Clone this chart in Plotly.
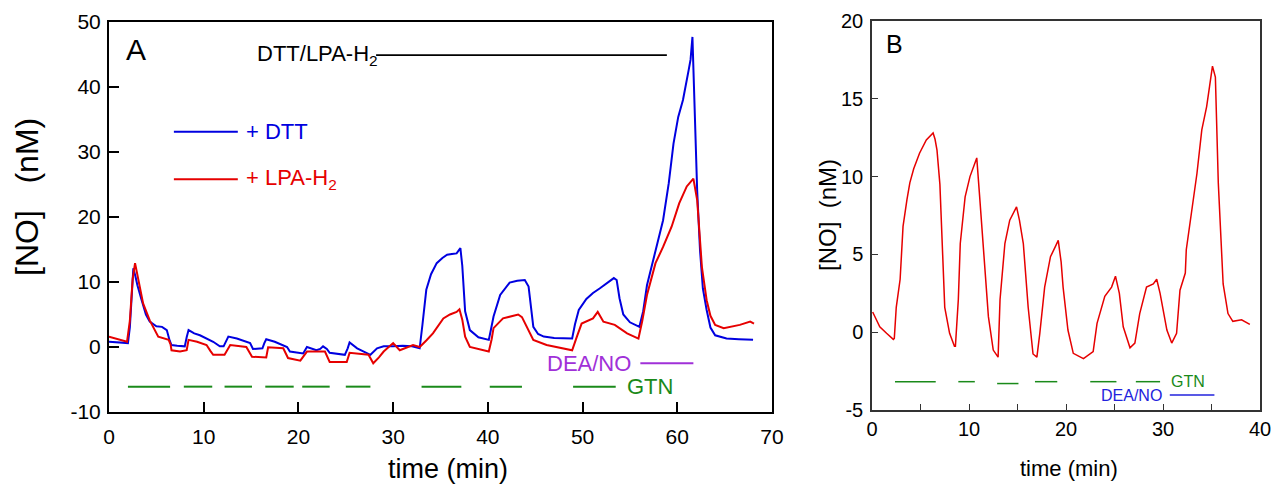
import plotly.graph_objects as go

# ---------------- Panel A data ----------------
t_dtt = [0, 1.0, 2.0, 2.2, 2.4, 2.57, 2.8, 3.0, 3.45, 3.9, 4.3, 5.0, 5.6, 6.1, 6.4, 6.6, 7.2, 8.0, 8.2, 8.4, 9.0, 9.6,
         11.0, 11.7, 12.1, 12.4, 12.6, 13.5, 14.5, 14.9, 15.2, 16.2, 16.4, 16.6, 17.5, 18.4, 18.8, 19.1, 20.5,
         20.7, 20.9, 21.9, 22.3, 22.6, 23.0, 23.3, 24.9, 25.2, 25.4, 26.2, 27.0, 27.6, 28.3, 29.0, 30.0, 31.0,
         32.0, 32.8, 33.1, 33.5, 34.0, 34.6, 35.2, 35.7, 36.2, 36.7, 37.1, 37.3, 37.6, 38.1, 39.0, 40.1,
         40.3, 40.6, 41.3, 42.3, 43.1, 43.9, 44.3, 44.6, 44.8, 45.3, 45.9, 47.0, 48.9, 49.2, 49.6, 50.4,
         51.1, 51.8, 52.6, 53.3, 53.6, 53.9, 54.3, 55.0, 56.0, 56.4, 56.8, 57.7, 58.5, 59.1, 59.6, 60.1,
         60.6, 61.2, 61.4, 61.6, 61.9, 62.1, 62.4, 62.7, 63.1, 63.5, 64.0, 65.2, 66.5, 68.0]
v_dtt = [0.8, 0.7, 0.6, 3.0, 9.0, 12.1, 10.8, 9.5, 7.2, 5.0, 3.9, 3.2, 3.1, 2.6, 1.0, 0.3, 0.2, 0.1, 1.5, 2.6, 2.1, 1.8,
         0.8, 0.1, 0.1, 1.0, 1.6, 1.3, 0.8, 0.6, -0.3, -0.2, 0.6, 1.2, 0.8, 0.3, 0.0, -0.7, -1.0,
         -0.5, 0.0, -0.5, -0.3, 0.1, -0.3, -0.9, -1.2, -0.2, 0.7, -0.2, -0.8, -1.2, -0.2, 0.1, 0.1, 0.2,
         0.1, -0.2, 3.5, 8.8, 11.2, 12.9, 13.7, 14.2, 14.3, 14.4, 15.2, 12.5, 5.5, 2.6, 1.5, 1.1,
         2.5, 4.7, 8.0, 9.9, 10.2, 10.3, 9.3, 5.5, 3.1, 2.0, 1.6, 1.4, 1.3, 3.5, 5.7, 7.4,
         8.3, 9.0, 9.8, 10.6, 10.3, 7.5, 5.0, 3.8, 3.1, 5.5, 9.5, 14.9, 19.5, 25.2, 31.3, 35.4,
         38.0, 42.6, 44.2, 47.7, 35.0, 24.0, 14.9, 9.0, 5.7, 3.0, 1.8, 1.3, 1.2, 1.1]

t_lpa = [0, 1.0, 1.9, 2.2, 2.5, 2.75, 3.1, 3.6, 4.3, 4.8, 5.2, 6.3, 6.5, 6.6, 7.5, 8.2, 8.4, 9.3, 10.3, 10.7, 11.0,
         12.2, 12.5, 12.8, 14.5, 14.8, 15.1, 16.6, 16.8, 18.4, 18.7, 18.9, 20.2, 20.6, 20.9, 22.8, 23.1, 23.3,
         25.1, 25.3, 25.4, 27.4, 27.7, 27.9, 28.5, 29.0, 30.0, 30.7, 32.1, 32.8, 33.5, 34.2, 35.3, 36.0, 36.7,
         37.0, 37.3, 37.6, 38.1, 40.1, 40.4, 40.6, 41.6, 43.2, 43.6, 44.1, 44.8, 46.2, 48.9, 49.4, 49.9,
         51.1, 51.6, 52.2, 53.4, 54.7, 55.9, 56.3, 56.8, 57.7, 58.5, 59.4, 60.2, 61.0, 61.7, 62.1, 62.4,
         62.6, 63.1, 63.5, 64.0, 64.9, 66.6, 67.7, 68.1]
v_lpa = [1.6, 1.2, 0.8, 4.0, 10.5, 12.9, 10.5, 6.7, 4.1, 2.6, 1.6, 1.1, 0.4, -0.5, -0.7, -0.5, 1.1, 0.8, 0.3, -0.6, -1.2,
         -1.2, -0.5, 0.3, 0.0, -0.8, -1.5, -1.6, -0.05, -0.2, -1.0, -1.7, -2.1, -1.4, -0.7, -0.7, -1.8, -2.3,
         -2.3, -1.5, -0.9, -1.2, -2.0, -2.5, -1.6, -0.7, 0.6, -0.5, 0.3, 0.0, 1.0, 2.1, 4.4, 5.0, 5.4,
         5.8, 4.2, 1.6, 0.0, -0.7, 1.2, 2.9, 4.4, 5.0, 4.6, 3.1, 1.1, 0.3, -0.5, 1.6, 3.6,
         4.4, 5.4, 3.9, 3.4, 2.1, 1.3, 4.0, 8.0, 12.9, 15.4, 18.5, 22.1, 24.7, 25.9, 22.6, 17.0,
         12.3, 7.2, 4.8, 3.4, 2.9, 3.4, 3.9, 3.6]

# GTN application periods (panel A)
gtn_a_start = [2.0, 7.9, 12.2, 16.5, 20.4, 25.0, 33.0, 40.2, 49.0]
gtn_a_end = [6.45, 10.9, 15.1, 19.5, 23.3, 27.6, 37.2, 43.6, 53.5]
gtn_a_level = -6.1
dea_a = [56.1, 61.7]
dea_a_level = -2.5
dtt_bar = [28.2, 58.9]
dtt_bar_level = 44.9

# tick labels
ticks_a_y = [-10, 0, 10, 20, 30, 40, 50]
ticks_a_y_text = ["-10", "0", "10", "20", "30", "40", "50"]
ticks_b_y = [-5, 0, 5, 10, 15, 20]
ticks_b_y_text = ["-5", "0", "5", "10", "15", "20"]

# ---------------- Panel B data ----------------
t_b = [0.07, 0.8, 1.5, 2.2, 2.3, 2.5, 2.9, 3.2, 3.6, 3.9, 4.3, 4.9, 5.6, 6.3, 6.5, 6.7, 7.0, 7.2, 7.5, 8.0, 8.5, 8.6,
       8.9, 9.1, 9.6, 10.1, 10.6, 10.8, 11.1, 11.6, 12.0, 12.5, 13.0, 13.2, 13.7, 14.2, 14.9, 15.2, 15.6, 16.1,
       16.6, 17.0, 17.3, 17.8, 18.4, 18.9, 19.2, 19.5, 19.7, 20.2, 20.75, 21.8, 22.8, 23.2, 24.0, 24.7, 25.1,
       25.5, 25.9, 26.6, 27.1, 27.6, 28.3, 29.0, 29.35, 29.7, 30.4, 30.9, 31.4, 31.75, 32.3, 32.4, 32.9,
       33.5, 34.0, 34.5, 34.8, 35.1, 35.4, 35.7, 36.2, 36.7, 37.2, 38.1, 38.95]
v_b = [1.3, 0.35, -0.07, -0.46, -0.4, 1.6, 3.4, 6.8, 8.5, 9.6, 10.5, 11.5, 12.35, 12.8, 12.4, 11.7, 9.5, 6.4, 1.6, -0.07, -0.9, -0.9,
       2.1, 5.7, 8.7, 10.0, 10.85, 11.2, 8.7, 4.2, 1.0, -1.15, -1.6, 2.1, 5.7, 7.2, 8.05, 7.2, 5.7, 1.6,
       -1.4, -1.6, -0.07, 2.9, 4.85, 5.5, 5.9, 4.5, 2.9, 0.14, -1.36, -1.7, -1.25, 0.57, 2.3, 2.9, 3.6,
       2.5, 0.35, -1.0, -0.7, 1.2, 2.9, 3.1, 3.4, 2.5, 0.14, -0.7, -0.07, 2.7, 3.8, 5.3, 7.4,
       10.2, 13.0, 14.5, 15.8, 17.1, 16.4, 9.6, 3.1, 1.2, 0.7, 0.8, 0.5]

gtn_b_start = [2.37, 8.9, 12.9, 16.8, 22.5, 27.2]
gtn_b_end = [6.57, 10.6, 15.1, 19.1, 25.2, 29.7]
gtn_b_level = [-3.18, -3.18, -3.3, -3.18, -3.18, -3.18]
dea_b = [30.7, 35.3]
dea_b_level = -4.04

BLUE = "#0000e0"
RED = "#e60000"
GREEN = "#1a8a1a"
PURPLE = "#a030d8"
FONT = "Liberation Sans, Arial, sans-serif"

# page offset (body margin) and figure size
OFF = 8
W, H = 1280 - OFF, 491 - OFF


def px(x):
    return (x - OFF) / W


def py(y):
    return 1 - (y - OFF) / H


fig = go.Figure()

fig.add_trace(go.Scatter(x=t_dtt, y=v_dtt, mode="lines", line=dict(color=BLUE, width=2),
                         xaxis="x", yaxis="y", showlegend=False))
fig.add_trace(go.Scatter(x=t_lpa, y=v_lpa, mode="lines", line=dict(color=RED, width=2),
                         xaxis="x", yaxis="y", showlegend=False))
fig.add_trace(go.Scatter(x=t_b, y=v_b, mode="lines", line=dict(color=RED, width=1.5),
                         xaxis="x2", yaxis="y2", showlegend=False))

shapes = []
for s, e in zip(gtn_a_start, gtn_a_end):
    shapes.append(dict(type="line", xref="x", yref="y", x0=s, x1=e, y0=gtn_a_level, y1=gtn_a_level,
                       line=dict(color=GREEN, width=2)))
shapes.append(dict(type="line", xref="x", yref="y", x0=dea_a[0], x1=dea_a[1], y0=dea_a_level, y1=dea_a_level,
                   line=dict(color=PURPLE, width=2)))
shapes.append(dict(type="line", xref="x", yref="y", x0=dtt_bar[0], x1=dtt_bar[1], y0=dtt_bar_level,
                   y1=dtt_bar_level, line=dict(color="black", width=1.8)))
# legend lines
shapes.append(dict(type="line", xref="x", yref="y", x0=6.85, x1=13.6, y0=33.1, y1=33.1, line=dict(color=BLUE, width=2)))
shapes.append(dict(type="line", xref="x", yref="y", x0=6.85, x1=13.6, y0=25.8, y1=25.8, line=dict(color=RED, width=2)))
for s, e, lv in zip(gtn_b_start, gtn_b_end, gtn_b_level):
    shapes.append(dict(type="line", xref="x2", yref="y2", x0=s, x1=e, y0=lv, y1=lv,
                       line=dict(color=GREEN, width=1.5)))
shapes.append(dict(type="line", xref="x2", yref="y2", x0=dea_b[0], x1=dea_b[1], y0=dea_b_level, y1=dea_b_level,
                   line=dict(color="#2222dd", width=1.5)))


def ann(x, y, text, size, color="black", xanchor="center", yanchor="middle", xref="x", yref="y", **kw):
    return dict(x=x, y=y, text=text, xref=xref, yref=yref, showarrow=False, xanchor=xanchor, yanchor=yanchor,
                font=dict(family=FONT, size=size, color=color), **kw)


annotations = [
    ann(2.8, 45.7, "A", 30),
    ann(15.4, 44.9, "DTT/LPA-H<sub>2</sub>", 22, xanchor="left", yanchor="middle"),
    ann(14.3, 33.2, "+ DTT", 22, color=BLUE, xanchor="left"),
    ann(14.3, 25.8, "+ LPA-H<sub>2</sub>", 22, color=RED, xanchor="left"),
    ann(55.3, -2.5, "DEA/NO", 22, color=PURPLE, xanchor="right"),
    ann(54.5, -6.0, "GTN", 22, color=GREEN, xanchor="left"),
    ann(2.37, 18.5, "B", 25, xref="x2", yref="y2"),
    ann(30.65, -3.18, "GTN", 16, color=GREEN, xanchor="left", xref="x2", yref="y2"),
    ann(30.1, -4.04, "DEA/NO", 16, color="#2222dd", xanchor="right", xref="x2", yref="y2"),
    # axis titles
    ann(px(448), py(469), "time (min)", 27, xref="paper", yref="paper"),
    ann(px(27), py(197), "[NO]\u00a0\u00a0\u00a0(nM)", 32, xref="paper", yref="paper", textangle=-90),
    ann(px(1069), py(468), "time (min)", 22, xref="paper", yref="paper"),
    ann(px(827), py(215), "[NO]\u00a0\u00a0(nM)", 24, xref="paper", yref="paper", textangle=-90),
]

axA = dict(showline=True, linecolor="black", linewidth=2, mirror=True, ticks="inside", ticklen=10,
           tickwidth=1.5, tickcolor="black", showgrid=False, zeroline=False, automargin=False,
           tickfont=dict(family=FONT, size=21, color="black"))
axB = dict(showline=True, linecolor="#333333", linewidth=1.5, mirror=True, ticks="inside", ticklen=6,
           tickwidth=1, tickcolor="#333333", showgrid=False, zeroline=False, automargin=False,
           tickfont=dict(family=FONT, size=20, color="black"))

fig.update_layout(
    width=W, height=H,
    margin=dict(l=0, r=0, t=0, b=0, autoexpand=False),
    paper_bgcolor="white", plot_bgcolor="white",
    showlegend=False,
    xaxis=dict(axA, domain=[px(109), px(772)], range=[0, 70], dtick=10, tick0=0, anchor="y",
               ticklabelstandoff=5),
    yaxis=dict(axA, domain=[py(412), py(22)], range=[-10, 50], tickmode="array", tickvals=ticks_a_y,
               ticktext=ticks_a_y_text, anchor="x", ticklabelstandoff=2),
    xaxis2=dict(axB, domain=[px(872), px(1260)], range=[0, 40], dtick=10, tick0=0, anchor="y2",
                minor=dict(dtick=5, ticks="inside", ticklen=6, tickcolor="#333333")),
    yaxis2=dict(axB, domain=[py(410), py(21)], range=[-5, 20], tickmode="array", tickvals=ticks_b_y,
                ticktext=ticks_b_y_text, anchor="x2", ticklabelstandoff=3),
    shapes=shapes,
    annotations=annotations,
)

fig.write_html("out.html")
